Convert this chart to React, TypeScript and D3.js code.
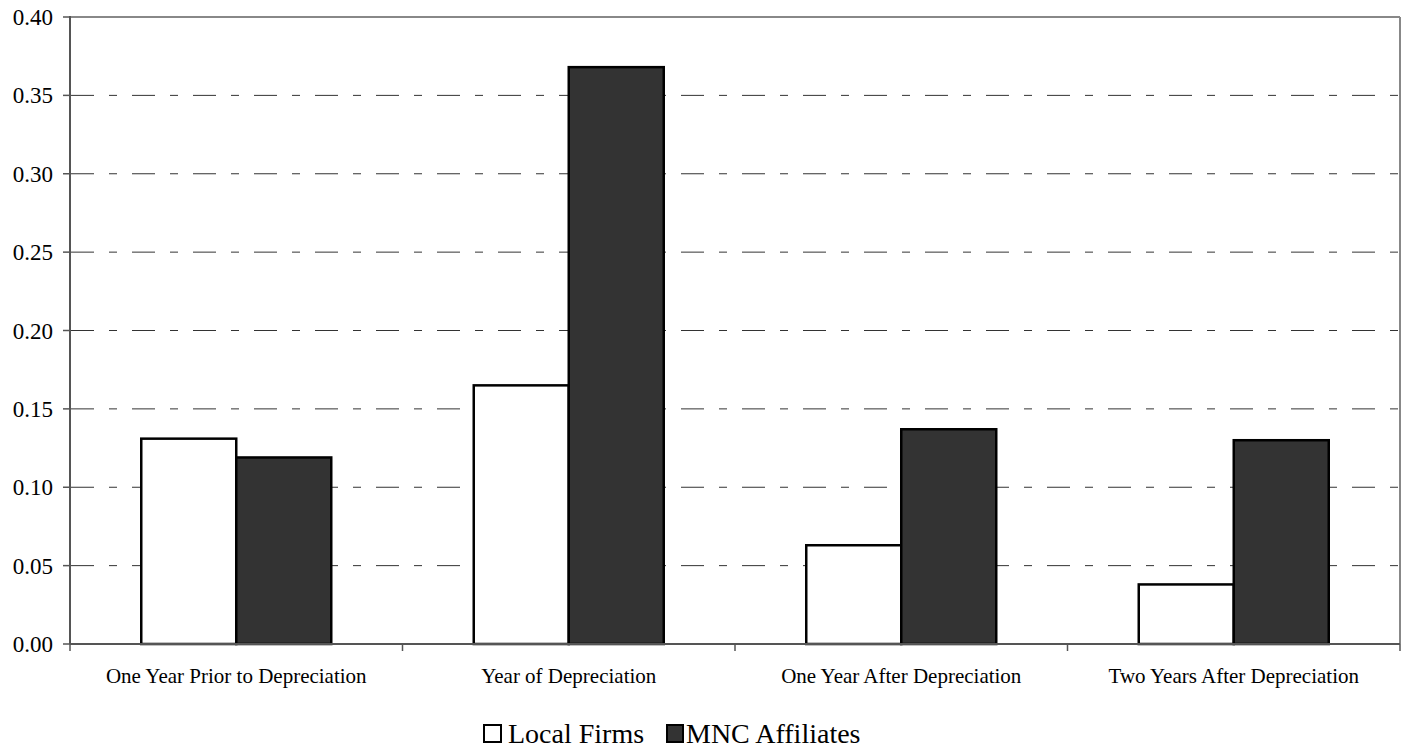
import React from "react";
import * as d3 from "d3";

const categories = [
  "One Year Prior to Depreciation",
  "Year of Depreciation",
  "One Year After Depreciation",
  "Two Years After Depreciation",
];
const seriesNames = ["Local Firms", "MNC Affiliates"];
const localFirms = [0.131, 0.165, 0.063, 0.038];
const mncAffiliates = [0.119, 0.368, 0.137, 0.13];
const yTicks = [0, 0.05, 0.1, 0.15, 0.2, 0.25, 0.3, 0.35, 0.4];

const W = 1403;
const H = 750;
const M = { left: 70, right: 1400, top: 17, bottom: 644 };
const FONT = "'Liberation Serif', 'Times New Roman', serif";
const fills = ["#ffffff", "#333333"];

export default function App() {
  const x0 = d3.scaleBand<string>().domain(categories).range([M.left, M.right]).padding(0);
  const x1 = d3
    .scaleBand<string>()
    .domain(seriesNames)
    .range([0, x0.bandwidth()])
    .paddingInner(0)
    .paddingOuter(0.75);
  const y = d3.scaleLinear().domain([0, 0.4]).range([M.bottom, M.top]);
  const values = [localFirms, mncAffiliates];
  const boundaries = [...categories.map((c) => x0(c)!), M.right];

  return (
    <svg
      width={W}
      height={H}
      style={{ position: "absolute", left: 0, top: 0, background: "#fff" }}
      fontFamily={FONT}
    >
      {/* gridlines */}
      {yTicks
        .filter((t) => t > 0 && t < 0.4)
        .map((t) => (
          <line
            key={"g" + t}
            x1={M.left + 1}
            x2={M.right}
            y1={y(t)}
            y2={y(t)}
            stroke="#333"
            strokeWidth={1}
            strokeDasharray="23,15,8,15"
          />
        ))}
      {/* top & right border */}
      <line x1={M.left} x2={M.right} y1={M.top} y2={M.top} stroke="#888" strokeWidth={2} />
      <line x1={M.right} x2={M.right} y1={M.top} y2={M.bottom} stroke="#888" strokeWidth={2} />
      {/* bars */}
      {categories.map((c, i) =>
        seriesNames.map((s, j) => {
          const v = values[j][i];
          return (
            <rect
              key={c + s}
              x={x0(c)! + x1(s)!}
              y={y(v)}
              width={x1.bandwidth()}
              height={y(0) - y(v)}
              fill={fills[j]}
              stroke="#000"
              strokeWidth={2.5}
            />
          );
        })
      )}
      {/* axes */}
      <line x1={M.left} x2={M.left} y1={M.top - 1} y2={M.bottom} stroke="#555" strokeWidth={2} />
      <line x1={M.left} x2={M.right} y1={M.bottom} y2={M.bottom} stroke="#555" strokeWidth={2} />
      {yTicks.map((t) => (
        <g key={"y" + t}>
          <line x1={M.left - 7} x2={M.left} y1={y(t)} y2={y(t)} stroke="#555" strokeWidth={1.5} />
          <text x={53} y={y(t) + 8} textAnchor="end" fontSize={23} fill="#000">
            {t.toFixed(2)}
          </text>
        </g>
      ))}
      {boundaries.map((b, i) => (
        <line key={"xt" + i} x1={b} x2={b} y1={M.bottom} y2={M.bottom + 7} stroke="#555" strokeWidth={1.5} />
      ))}
      {categories.map((c) => (
        <text
          key={"xl" + c}
          x={x0(c)! + x0.bandwidth() / 2}
          y={683}
          textAnchor="middle"
          fontSize={21}
          fill="#000"
        >
          {c}
        </text>
      ))}
      {/* legend */}
      <rect x={484} y={725} width={17} height={17} fill="#fff" stroke="#000" strokeWidth={2} />
      <text x={508} y={743} fontSize={28} fill="#000">
        {seriesNames[0]}
      </text>
      <rect x={667} y={725} width={16} height={17} fill="#333" stroke="#000" strokeWidth={2} />
      <text x={686} y={743} fontSize={28} fill="#000">
        {seriesNames[1]}
      </text>
    </svg>
  );
}
